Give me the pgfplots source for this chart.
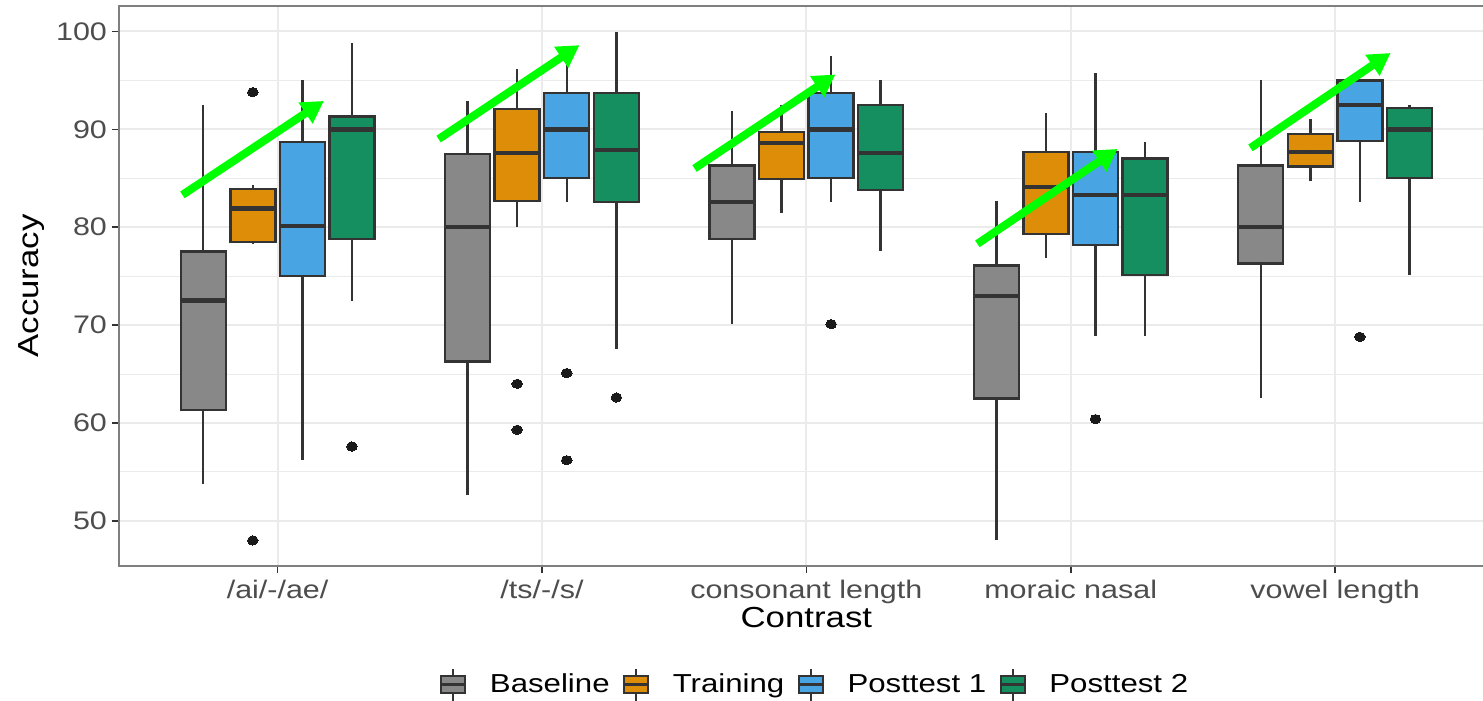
\documentclass[border=0pt]{standalone}
\usepackage{fontspec}
\setmainfont{Liberation Sans}[FakeStretch=1.2]
\usepackage{pgfplots}
\usepackage{pgfplotstable}
\pgfplotsset{compat=1.18}
\usetikzlibrary{arrows.meta}
\definecolor{cgrey}{HTML}{888888}
\definecolor{corange}{HTML}{DD8D07}
\definecolor{cblue}{HTML}{48A4E2}
\definecolor{cgreen}{HTML}{168F60}
\definecolor{boxline}{HTML}{333333}
\definecolor{outl}{HTML}{1A1A1A}
\definecolor{gridc}{HTML}{EBEBEB}
\definecolor{framec}{HTML}{7F7F7F}
\definecolor{tickl}{HTML}{4D4D4D}
\definecolor{arrowc}{HTML}{00FF00}
% box statistics: position, lower whisker, Q1, median, Q3, upper whisker
\pgfplotstableread{
pos lw q1 med q3 uw
0.71875 53.8 61.3 72.5 77.5 92.5
1.71875 52.6 66.3 80.0 87.5 92.9
2.71875 70.1 78.8 82.6 86.3 91.9
3.71875 48.0 62.5 73.0 76.1 82.7
4.71875 62.6 76.3 80.0 86.3 95.0
}\tbase
\pgfplotstableread{
pos lw q1 med q3 uw
0.90625 78.3 78.5 81.9 83.9 84.3
1.90625 80.0 82.7 87.6 92.1 96.2
2.90625 81.5 84.9 88.6 89.7 92.5
3.90625 76.9 79.3 84.1 87.7 91.7
4.90625 84.7 86.2 87.7 89.5 91.1
}\ttrain
\pgfplotstableread{
pos lw q1 med q3 uw
1.09375 56.2 75.0 80.1 88.7 95.0
2.09375 82.6 85.0 90.0 93.7 96.9
3.09375 82.6 85.0 90.0 93.7 97.5
4.09375 68.9 78.2 83.3 87.7 95.8
5.09375 82.6 88.8 92.5 95.0 95.0
}\tpostA
\pgfplotstableread{
pos lw q1 med q3 uw
1.28125 72.5 78.8 90.0 91.3 98.8
2.28125 67.6 82.6 87.9 93.7 99.9
3.28125 77.6 83.8 87.6 92.5 95.0
4.28125 68.9 75.1 83.3 87.0 88.7
5.28125 75.1 85.0 90.0 92.2 92.5
}\tpostB
% outliers
\pgfplotstableread{
x y
0.90625 93.8
0.90625 48.0
1.90625 64.0
1.90625 59.3
2.09375 65.1
2.09375 56.2
3.09375 70.1
4.09375 60.4
5.09375 68.8
1.28125 57.6
2.28125 62.6
}\tout
\pgfplotsset{
  nomark/.style={forget plot, only marks, mark=*, mark size=0pt,
    mark options={draw=none, fill=none}},
}
\newcommand{\boxgroup}[2]{%
  \addplot[nomark,
    error bars/.cd, y dir=both, y explicit, error mark=none,
    error bar style={boxline, line width=1.2pt}]
    table[x=pos, y=med, y error plus expr=\thisrow{uw}-\thisrow{med},
          y error minus expr=\thisrow{med}-\thisrow{lw}] {#1};
  \addplot[nomark,
    error bars/.cd, y dir=plus, y explicit, error mark=none,
    error bar style={boxline, line width=23.7pt}]
    table[x=pos, y expr=\thisrow{q1}-0.123,
          y error plus expr=\thisrow{q3}-\thisrow{q1}+0.246] {#1};
  \addplot[nomark,
    error bars/.cd, y dir=plus, y explicit, error mark=none,
    error bar style={#2, line width=21.3pt}]
    table[x=pos, y expr=\thisrow{q1}+0.123,
          y error plus expr=\thisrow{q3}-\thisrow{q1}-0.246] {#1};
  \addplot[nomark,
    error bars/.cd, x dir=both, x fixed=0.085, error mark=none,
    error bar style={boxline, line width=2.2pt}]
    table[x=pos, y=med] {#1};
}
\pgfplotsset{
  lg/.style={legend image code/.code={
      \draw[boxline, line width=1.1pt] (6pt,-8pt) -- (6pt,8pt);
      \draw[fill=#1, draw=boxline, line width=1.1pt] (0pt,-4.25pt) rectangle (12pt,4.25pt);
      \draw[boxline, line width=1.6pt] (0pt,0pt) -- (12pt,0pt);
    }},
}
\tikzset{arr/.style={arrowc, line width=4pt, -{Triangle[length=11pt,width=12pt]}}}
\begin{document}
\begin{tikzpicture}
\begin{axis}[name=ax,
  scale only axis, width=687.5pt, height=280pt,
  xmin=0.4, xmax=5.6, ymin=45.4, ymax=102.6,
  xtick={1,2,3,4,5},
  xticklabels={/ai/-/ae/,/ts/-/s/,consonant length,moraic nasal,vowel length},
  ytick={50,60,70,80,90,100}, minor ytick={55,65,75,85,95},
  grid=both,
  major grid style={gridc, line width=1pt},
  minor grid style={gridc, line width=0.5pt},
  axis line style={framec, line width=0.8pt},
  tick align=outside, tick pos=left, major tick length=3.5pt, minor tick length=0pt,
  tick style={boxline, line width=0.8pt},
  tick label style={font=\fontsize{12.7}{15}\selectfont, text=tickl},
  yticklabel style={xshift=1pt},
  /pgf/number format/assume math mode=true,
  xlabel={Contrast}, ylabel={Accuracy},
  every axis x label/.style={at={(axis description cs:0.5,-0.0929)}, anchor=center, font=\fontsize{14.5}{17}\selectfont},
  every axis y label/.style={at={(axis description cs:-0.0633,0.5)}, anchor=center, rotate=90, font=\fontsize{14.5}{17}\selectfont},
  legend style={at={(0.507,-0.2125)}, anchor=center, draw=none, fill=none,
    legend columns=4, font=\fontsize{13}{15}\selectfont,
    /tikz/every odd column/.append style={column sep=9.5pt},
    /tikz/every even column/.append style={column sep=4.5pt}},
  legend cell align=left,
]
\addlegendimage{lg=cgrey}\addlegendentry{Baseline}
\addlegendimage{lg=corange}\addlegendentry{Training}
\addlegendimage{lg=cblue}\addlegendentry{Posttest 1}
\addlegendimage{lg=cgreen}\addlegendentry{Posttest 2}
\boxgroup{\tbase}{cgrey}
\boxgroup{\ttrain}{corange}
\boxgroup{\tpostA}{cblue}
\boxgroup{\tpostB}{cgreen}
\addplot[forget plot, only marks, mark=*, mark size=2.3pt,
  mark options={fill=outl, draw=outl, line width=0pt, xscale=1.15}]
  table[x=x, y=y] {\tout};
% arrows
\draw[arr] (axis cs:0.64,83.3) -- (axis cs:1.175,92.9);
\draw[arr] (axis cs:1.609,89.0) -- (axis cs:2.142,98.6);
\draw[arr] (axis cs:2.577,86.0) -- (axis cs:3.11,95.6);
\draw[arr] (axis cs:3.647,78.3) -- (axis cs:4.177,88.0);
\draw[arr] (axis cs:4.68,88.1) -- (axis cs:5.21,97.8);
\end{axis}
\pgfresetboundingbox
\useasboundingbox ([xshift=-59.5pt,yshift=-67.5pt]ax.south west) rectangle ([xshift=-5.35pt,yshift=3pt]ax.north east);
\end{tikzpicture}
\end{document}
